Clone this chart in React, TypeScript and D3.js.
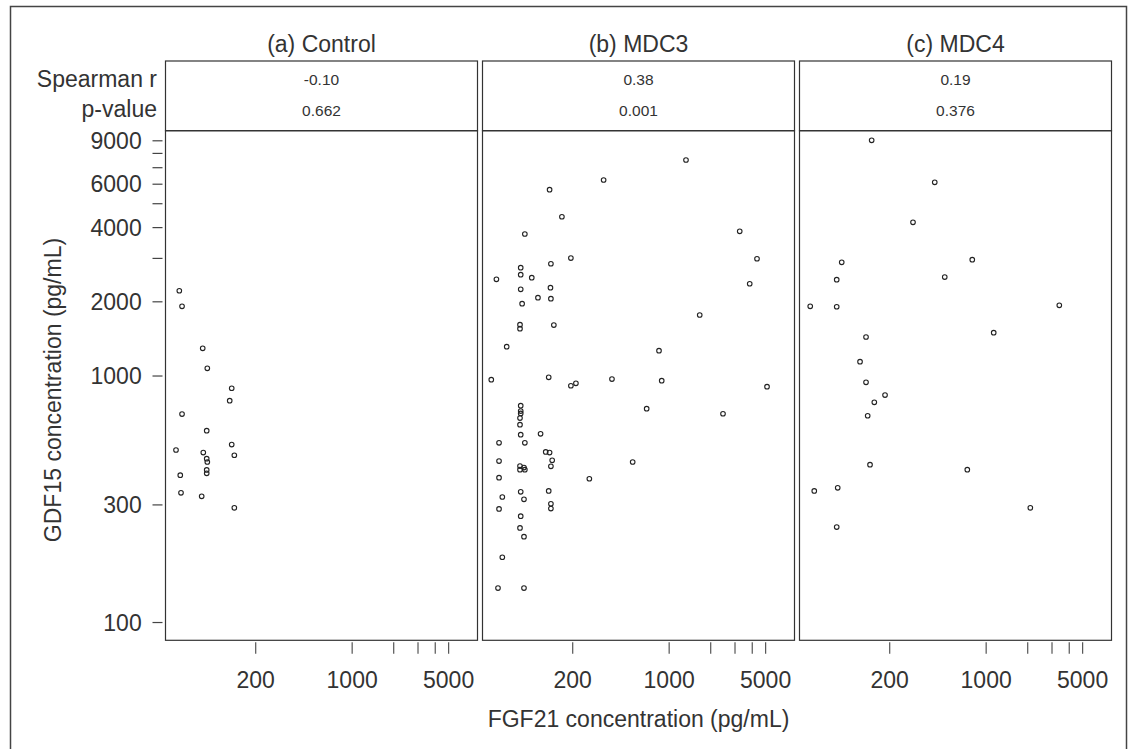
import React from "react";
import * as d3 from "d3";

const panelTitles = ["(a) Control", "(b) MDC3", "(c) MDC4"];
const spearmanR = ["-0.10", "0.38", "0.19"];
const pValues = ["0.662", "0.001", "0.376"];

const ctrlX = [55.9, 58.5, 82.6, 89.2, 134, 129.6, 58.5, 88.3, 134, 52.9, 83.4, 140, 88.3, 89.2, 88.3, 88.3, 56.8, 57.5, 81.2, 140];
const ctrlY = [2218, 1918, 1295, 1075, 892, 794, 701, 600, 527, 501, 489, 477, 462, 448, 416, 403, 396, 336, 325, 292];

const mdc3X = [1324, 335, 136, 167, 90, 3245, 4330, 194, 139, 84, 84, 101, 56, 3834, 84, 138, 112, 139, 86, 1665, 146, 83, 83, 66.5, 844, 51.4, 134, 194, 211, 385, 883, 5118, 687, 2455, 84, 84, 84, 83, 83, 84, 117, 58.5, 90, 127.5, 136, 142, 139, 83, 88.7, 90, 83, 58.5, 544, 58.5, 264, 84, 134, 61.8, 88.7, 139, 139, 58.5, 84, 83, 88.7, 61.8, 57.5, 88.7];
const mdc3Y = [7521, 6240, 5699, 4428, 3769, 3864, 2991, 3010, 2854, 2750, 2576, 2505, 2468, 2368, 2248, 2282, 2078, 2059, 1965, 1768, 1610, 1615, 1556, 1315, 1267, 966, 988, 913, 934, 972, 957, 905, 737, 703, 758, 721, 705, 675, 635, 578, 583, 536, 536, 492, 489, 455, 430, 431, 425, 417, 417, 452, 448, 387, 383, 339, 342, 323, 316, 303, 290, 289, 270, 242, 223, 184, 138, 138];

const mdc4X = [148, 424, 295, 89.8, 793, 82.6, 501, 53.1, 82.6, 3388, 1134, 134.7, 121.9, 134.7, 185, 154.7, 138.5, 144, 730, 56.8, 84, 2089, 82.6];
const mdc4Y = [9040, 6107, 4203, 2893, 2964, 2459, 2521, 1918, 1910, 1936, 1499, 1440, 1143, 943, 837, 782, 690, 437, 417, 342, 352, 292, 244];

const yTicksLabeled = [100, 300, 1000, 2000, 4000, 6000, 9000];
const yTicksMinor = [3000, 5000, 7000, 8000];
const xTicksLabeled = [200, 1000, 5000];
const xTicksMinor = [2000, 3000, 4000];

const xDomain = [44.4, 8095];
const yDomain = [84.7, 9890];

const FONT = "'Liberation Sans', Arial, Helvetica, sans-serif";
const TXT = "#333";

export default function App() {
  const panelLefts = [165.5, 482.5, 799.5];
  const panelW = 312;
  const statTop = 61;
  const plotTop = 130.7;
  const plotBottom = 640.3;

  const y = d3.scaleLog().domain(yDomain).range([plotBottom, plotTop]);
  const xLocal = d3.scaleLog().domain(xDomain).range([0, panelW]);

  const datasets = [
    ctrlX.map((v, i) => [v, ctrlY[i]]),
    mdc3X.map((v, i) => [v, mdc3Y[i]]),
    mdc4X.map((v, i) => [v, mdc4Y[i]]),
  ];

  const fmt = d3.format("d");

  return (
    <div style={{ position: "absolute", left: 0, top: 0 }}>
      <svg width={1132} height={749} style={{ display: "block", fontFamily: FONT }}>
        <rect x={0} y={0} width={1132} height={749} fill="#fff" />
        <rect x={10.5} y={6.5} width={1116} height={800} fill="none" stroke="#444" strokeWidth={1.5} />

        {/* stat labels */}
        <text x={157} y={86.5} textAnchor="end" fontSize={23} fill={TXT}>Spearman r</text>
        <text x={157} y={117} textAnchor="end" fontSize={23} fill={TXT}>p-value</text>

        {/* y axis */}
        {yTicksLabeled.concat(yTicksMinor).map((t) => (
          <line key={"yt" + t} x1={panelLefts[0] - 13} x2={panelLefts[0] - 3} y1={y(t)} y2={y(t)} stroke="#444" strokeWidth={1.2} />
        ))}
        {yTicksLabeled.map((t) => (
          <text key={"yl" + t} x={141.7} y={y(t) + 8.2} textAnchor="end" fontSize={23} fill={TXT}>{fmt(t)}</text>
        ))}
        <text transform={`translate(61,390) rotate(-90)`} textAnchor="middle" fontSize={23} fill={TXT}>
          GDF15 concentration (pg/mL)
        </text>
        <text x={638.5} y={727} textAnchor="middle" fontSize={23} fill={TXT}>
          FGF21 concentration (pg/mL)
        </text>

        {panelLefts.map((x0, p) => (
          <g key={"p" + p}>
            <text x={x0 + panelW / 2} y={51.7} textAnchor="middle" fontSize={23} fill={TXT}>{panelTitles[p]}</text>
            <rect x={x0} y={statTop} width={panelW} height={plotTop - statTop} fill="none" stroke="#333" strokeWidth={1.2} />
            <text x={x0 + panelW / 2} y={84.5} textAnchor="middle" fontSize={15.5} fill={TXT}>{spearmanR[p]}</text>
            <text x={x0 + panelW / 2} y={115.5} textAnchor="middle" fontSize={15.5} fill={TXT}>{pValues[p]}</text>
            <rect x={x0} y={plotTop} width={panelW} height={plotBottom - plotTop} fill="none" stroke="#333" strokeWidth={1.2} />
            {xTicksLabeled.concat(xTicksMinor).map((t) => (
              <line key={"xt" + t} x1={x0 + xLocal(t)} x2={x0 + xLocal(t)} y1={plotBottom + 2} y2={plotBottom + 13.4} stroke="#555" strokeWidth={1.2} />
            ))}
            {xTicksLabeled.map((t) => (
              <text key={"xl" + t} x={x0 + xLocal(t)} y={688.3} textAnchor="middle" fontSize={23} fill={TXT}>{fmt(t)}</text>
            ))}
            {datasets[p].map((d, i) => (
              <circle key={i} cx={x0 + xLocal(d[0])} cy={y(d[1])} r={2.3} fill="none" stroke="#222" strokeWidth={1.1} />
            ))}
          </g>
        ))}
      </svg>
    </div>
  );
}
